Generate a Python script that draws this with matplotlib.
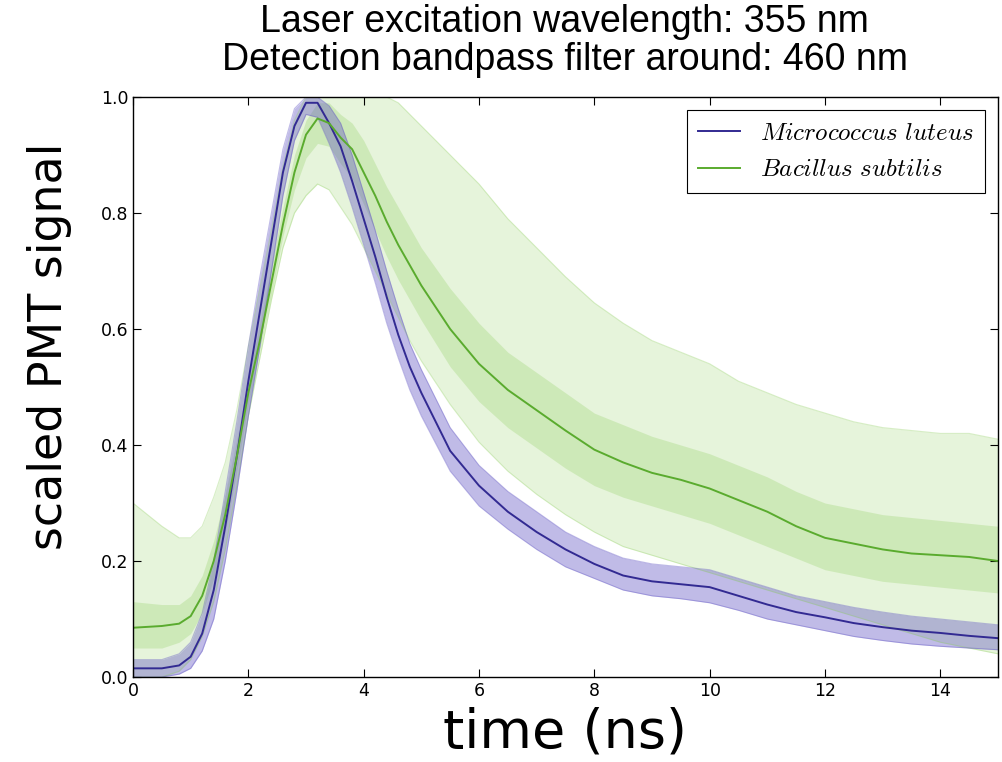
import matplotlib
matplotlib.use("Agg")
import matplotlib.pyplot as plt

# time axis (ns)
t = [0.0, 0.5, 0.8, 1.0, 1.2, 1.4, 1.6, 1.8, 2.0, 2.2, 2.4, 2.6, 2.8, 3.0,
     3.2, 3.4, 3.6, 3.8, 4.0, 4.2, 4.4, 4.6, 4.8, 5.0, 5.5, 6.0, 6.5, 7.0,
     7.5, 8.0, 8.5, 9.0, 9.5, 10.0, 10.5, 11.0, 11.5, 12.0, 12.5, 13.0,
     13.5, 14.0, 14.5, 15.0]

# Micrococcus luteus: mean and spread of the single traces
luteus_mean = [0.015, 0.015, 0.02, 0.035, 0.075, 0.15, 0.26, 0.38, 0.51,
               0.63, 0.75, 0.87, 0.95, 0.99, 0.99, 0.955, 0.915, 0.855,
               0.79, 0.725, 0.655, 0.59, 0.535, 0.49, 0.39, 0.33, 0.285,
               0.25, 0.22, 0.195, 0.175, 0.165, 0.16, 0.155, 0.14, 0.125,
               0.112, 0.103, 0.093, 0.086, 0.08, 0.076, 0.071, 0.067]
luteus_low = [0.0, 0.0, 0.005, 0.015, 0.045, 0.10, 0.20, 0.32, 0.45, 0.57,
              0.70, 0.83, 0.925, 0.97, 0.965, 0.92, 0.87, 0.81, 0.745,
              0.68, 0.61, 0.55, 0.495, 0.45, 0.355, 0.295, 0.255, 0.22,
              0.19, 0.17, 0.15, 0.14, 0.135, 0.128, 0.115, 0.10, 0.09, 0.08,
              0.07, 0.063, 0.057, 0.053, 0.05, 0.047]
luteus_high = [0.03, 0.03, 0.04, 0.06, 0.11, 0.20, 0.32, 0.44, 0.57, 0.69,
               0.80, 0.91, 0.98, 1.0, 1.0, 0.985, 0.955, 0.90, 0.835, 0.77,
               0.70, 0.635, 0.575, 0.53, 0.43, 0.365, 0.32, 0.285, 0.25,
               0.225, 0.205, 0.195, 0.19, 0.185, 0.17, 0.155, 0.14, 0.13,
               0.12, 0.112, 0.105, 0.10, 0.095, 0.09]

# Bacillus subtilis: mean and spread of the single traces
subtilis_mean = [0.085, 0.088, 0.092, 0.105, 0.14, 0.20, 0.28, 0.38, 0.49,
                 0.58, 0.68, 0.78, 0.87, 0.935, 0.963, 0.955, 0.93, 0.91,
                 0.87, 0.83, 0.785, 0.745, 0.71, 0.675, 0.60, 0.54, 0.495,
                 0.46, 0.425, 0.392, 0.37, 0.352, 0.34, 0.325, 0.305, 0.285,
                 0.26, 0.24, 0.23, 0.22, 0.213, 0.21, 0.207, 0.20]
subtilis_low = [0.0, 0.0, 0.01, 0.03, 0.07, 0.13, 0.22, 0.33, 0.45, 0.55,
                0.65, 0.74, 0.80, 0.83, 0.85, 0.84, 0.81, 0.78, 0.74, 0.70,
                0.66, 0.62, 0.58, 0.545, 0.47, 0.405, 0.355, 0.315, 0.28,
                0.25, 0.225, 0.21, 0.195, 0.18, 0.165, 0.15, 0.135, 0.12,
                0.105, 0.09, 0.075, 0.06, 0.05, 0.04]
subtilis_q1 = [0.05, 0.05, 0.06, 0.075, 0.11, 0.17, 0.25, 0.355, 0.47,
               0.565, 0.66, 0.76, 0.84, 0.895, 0.92, 0.915, 0.885, 0.86,
               0.815, 0.77, 0.725, 0.685, 0.65, 0.615, 0.535, 0.475, 0.43,
               0.395, 0.36, 0.33, 0.31, 0.295, 0.28, 0.265, 0.245, 0.225,
               0.205, 0.185, 0.175, 0.165, 0.16, 0.155, 0.15, 0.145]
subtilis_q3 = [0.13, 0.125, 0.125, 0.14, 0.175, 0.235, 0.315, 0.41, 0.515,
               0.61, 0.71, 0.81, 0.90, 0.96, 0.99, 0.99, 0.97, 0.955, 0.925,
               0.885, 0.845, 0.81, 0.775, 0.74, 0.67, 0.61, 0.56, 0.525,
               0.49, 0.455, 0.435, 0.415, 0.40, 0.385, 0.365, 0.345, 0.32,
               0.30, 0.29, 0.28, 0.275, 0.27, 0.265, 0.26]
subtilis_high = [0.30, 0.26, 0.24, 0.24, 0.26, 0.31, 0.37, 0.46, 0.57, 0.67,
                 0.77, 0.88, 0.96, 1.0, 1.0, 1.0, 1.0, 1.0, 1.0, 1.0, 1.0,
                 0.99, 0.97, 0.95, 0.90, 0.85, 0.79, 0.74, 0.69, 0.645,
                 0.61, 0.58, 0.56, 0.54, 0.51, 0.49, 0.47, 0.455, 0.44,
                 0.43, 0.425, 0.42, 0.42, 0.41]

blue = "#322a92"
blue_light = "#6256c4"
green = "#5aab2e"
green_light = "#8fcf5f"

plt.rcParams["mathtext.fontset"] = "cm"

fig = plt.figure(figsize=(10.03, 7.62), dpi=100)
ax = fig.add_axes([0.1326, 0.1115, 0.8624, 0.7612])

# spread of the single green traces
ax.fill_between(t, subtilis_low, subtilis_high, color=green_light,
                alpha=0.22, linewidth=0)
ax.fill_between(t, subtilis_q1, subtilis_q3, color=green_light,
                alpha=0.28, linewidth=0)
ax.plot(t, subtilis_low, color=green_light, alpha=0.35, lw=0.8)
ax.plot(t, subtilis_high, color=green_light, alpha=0.35, lw=0.8)

# spread of the single blue traces
ax.fill_between(t, luteus_low, luteus_high, color=blue_light,
                alpha=0.4, linewidth=0)
ax.plot(t, luteus_low, color=blue_light, alpha=0.4, lw=0.8)
ax.plot(t, luteus_high, color=blue_light, alpha=0.4, lw=0.8)

ax.plot(t, luteus_mean, color=blue, lw=1.4, label=r"$Micrococcus\ luteus$")
ax.plot(t, subtilis_mean, color=green, lw=1.4, label=r"$Bacillus\ subtilis$")

ax.set_xlim(0, 15)
ax.set_ylim(0, 1)
ax.set_xticks([0, 2, 4, 6, 8, 10, 12, 14])
ax.set_yticks([0.0, 0.2, 0.4, 0.6, 0.8, 1.0])
ax.tick_params(direction="in", top=True, right=True, labelsize=12.5,
               length=6, width=0.8)
for s in ax.spines.values():
    s.set_linewidth(1.0)

ax.set_xlabel("time (ns)", fontsize=39)
ax.xaxis.set_label_coords(0.5, -0.05)
ax.set_ylabel("scaled PMT signal", fontsize=33)
ax.yaxis.set_label_coords(-0.07, 0.57)

leg = ax.legend(loc="upper right", fontsize=18, fancybox=False,
                edgecolor="black", framealpha=1, handlelength=1.7,
                borderpad=0.45)
leg.get_frame().set_linewidth(0.8)

fig.text(0.563, 0.971, "Laser excitation wavelength: 355 nm",
         ha="center", va="center", fontsize=27, family="Liberation Sans")
fig.text(0.563, 0.921, "Detection bandpass filter around: 460 nm",
         ha="center", va="center", fontsize=27, family="Liberation Sans")

fig.savefig("out.png", dpi=100)
